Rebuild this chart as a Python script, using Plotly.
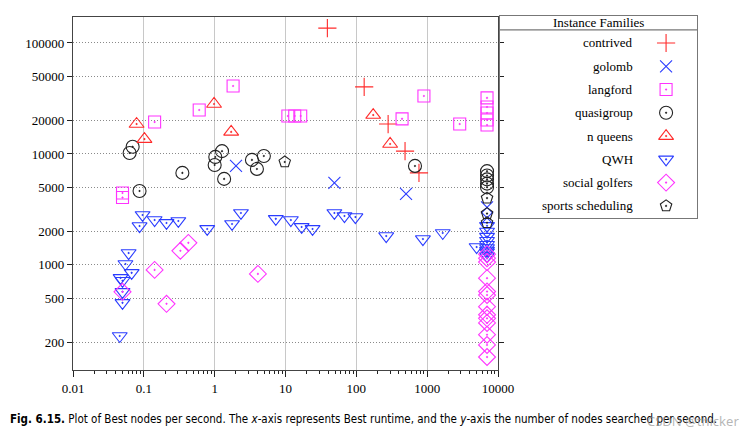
import plotly.graph_objects as go
import math

# ---------------- data ----------------
families = ["contrived", "golomb", "langford", "quasigroup", "n queens",
            "QWH", "social golfers", "sports scheduling"]

contrived_x = [39, 129, 281, 487, 766]
contrived_y = [136000, 40200, 18600, 10600, 6750]

golomb_x = [2.0, 49, 503, 7000, 7000]
golomb_y = [7800, 5480, 4360, 3300, 2650]

langford_x = [0.050, 0.050, 0.142, 0.605, 1.82, 10.8, 13.5, 16.4, 442, 900, 2880,
              7000, 7000, 7000, 7000, 7000]
langford_y = [4450, 4050, 19400, 24900, 41000, 22000, 22000, 22000, 20700, 33300, 18600,
              32000, 26500, 23400, 20200, 18200]

quasigroup_x = [0.063, 0.0695, 0.087, 0.35, 1.02, 1.0, 1.27, 1.36, 3.36, 3.95, 4.95, 673,
                7000, 7000, 7000, 7000, 7000]
quasigroup_y = [10200, 11600, 4640, 6750, 9400, 7960, 10600, 5960, 8840, 7330, 9590, 7800,
                7000, 6400, 5900, 5400, 5000]

nqueens_x = [0.079, 0.102, 0.98, 1.71, 173, 300]
nqueens_y = [18600, 13600, 28200, 15800, 22400, 12300]

qwh_x = [0.0457, 0.050, 0.050, 0.047, 0.050, 0.055, 0.061, 0.0673, 0.087, 0.096, 0.142,
         0.209, 0.307, 0.785, 1.76, 2.35, 7.3, 11.9, 16.9, 24.1, 49, 68, 97, 264, 871,
         1660, 4990, 7000, 7000, 7000, 7000, 7000, 7000, 7000, 7000, 7000]
qwh_y = [229, 455, 572, 764, 720, 1020, 1280, 848, 2240, 2820, 2540, 2390, 2490, 2110,
         2340, 2940, 2600, 2540, 2200, 2110, 2940, 2760, 2700, 1820, 1710, 1940, 1450,
         2250, 2000, 1800, 1650, 1520, 1420, 1350, 1300, 1200]

golfers_x = [0.050, 0.142, 0.209, 0.328, 0.425, 4.08,
             7000, 7000, 7000, 7000, 7000, 7000, 7000, 7000, 7000, 7000, 7000, 7000, 7000]
golfers_y = [572, 902, 446, 1340, 1580, 830,
             1250, 1150, 1060, 760, 575, 535, 420, 355, 330, 300, 235, 190, 148]

sports_x = [9.76, 7000, 7000, 7000]
sports_y = [8470, 4000, 2900, 2400]

x_ticks = [0.01, 0.1, 1, 10, 100, 1000, 10000]
x_ticktext = ["0.01", "0.1", "1", "10", "100", "1000", "10000"]
y_ticks = [200, 500, 1000, 2000, 5000, 10000, 20000, 50000, 100000]
y_ticktext = ["200", "500", "1000", "2000", "5000", "10000", "20000", "50000", "100000"]

# ---------------- styles ----------------
RED = "#ff2a2a"
BLUE = "#2a3cff"
MAG = "#ff33ff"
BLK = "#222222"
styles = {
    "contrived": ("cross-thin-open", RED, 13),
    "golomb": ("x-thin-open", BLUE, 12),
    "langford": ("square-open-dot", MAG, 12),
    "quasigroup": ("circle-open-dot", BLK, 13),
    "n queens": ("triangle-up-open-dot", RED, 13),
    "QWH": ("triangle-down-open-dot", BLUE, 13),
    "social golfers": ("diamond-open-dot", MAG, 13),
    "sports scheduling": ("pentagon-open-dot", BLK, 12),
}
series = {
    "contrived": (contrived_x, contrived_y),
    "golomb": (golomb_x, golomb_y),
    "langford": (langford_x, langford_y),
    "quasigroup": (quasigroup_x, quasigroup_y),
    "n queens": (nqueens_x, nqueens_y),
    "QWH": (qwh_x, qwh_y),
    "social golfers": (golfers_x, golfers_y),
    "sports scheduling": (sports_x, sports_y),
}

SERIF = '"Liberation Serif", "Times New Roman", "DejaVu Serif", serif'

fig = go.Figure()
for fam in families:
    sym, col, sz = styles[fam]
    xs, ys = series[fam]
    fig.add_trace(go.Scatter(
        x=xs, y=ys, mode="markers", name=fam, showlegend=False,
        marker=dict(symbol=sym, size=sz, color=col, line=dict(color=col, width=1.1)),
        xaxis="x", yaxis="y"))

# custom legend (gnuplot style: label right-aligned, symbol on the right)
LABEL_X = 0.685
SYM_X = 0.843
for i, fam in enumerate(families):
    sym, col, sz = styles[fam]
    fig.add_trace(go.Scatter(
        x=[SYM_X], y=[i], mode="markers", showlegend=False, hoverinfo="skip",
        marker=dict(symbol=sym, size=sz, color=col, line=dict(color=col, width=1.1)),
        xaxis="x2", yaxis="y2"))
    fig.add_annotation(x=LABEL_X, y=i, xref="x2", yref="y2", text=fam,
                       showarrow=False, xanchor="right", yanchor="middle",
                       font=dict(family=SERIF, size=13, color="black"))
fig.add_annotation(x=0.5, y=-0.86, xref="x2", yref="y2", text="Instance Families",
                   showarrow=False, xanchor="center", yanchor="middle",
                   font=dict(family=SERIF, size=13, color="black"))
fig.add_shape(type="line", xref="x2", yref="y2", x0=0, x1=1, y0=-0.56, y1=-0.56,
              line=dict(color="#777777", width=1.3))

fig.update_layout(
    width=742, height=430,
    margin=dict(l=65, r=53, t=8, b=68),
    paper_bgcolor="white", plot_bgcolor="white",
    font=dict(family=SERIF, size=13, color="black"),
    xaxis=dict(type="log", range=[-2, 4], domain=[0, 0.6811], anchor="y",
               tickmode="array", tickvals=x_ticks, ticktext=x_ticktext,
               ticks="outside", ticklen=6, tickcolor="#222", tickwidth=1.2,
               minor=dict(tickmode="linear", dtick="D1", ticks="outside",
                          ticklen=3, tickcolor="#222", tickwidth=1, showgrid=False),
               showline=True, linecolor="#444", linewidth=1.2, mirror=True,
               showgrid=True, gridcolor="#c8c8c8", gridwidth=1, zeroline=False,
               tickfont=dict(family=SERIF, size=13, color="black")),
    yaxis=dict(type="log", range=[math.log10(113), 5.234], domain=[0, 0.9972], anchor="x",
               tickmode="array", tickvals=y_ticks, ticktext=y_ticktext,
               ticks="outside", ticklen=5, tickcolor="#222", tickwidth=1.2,
               showline=True, linecolor="#444", linewidth=1.2, mirror="ticks",
               showgrid=True, gridcolor="#8a8a8a", gridwidth=1, griddash="1px,2px",
               zeroline=False,
               tickfont=dict(family=SERIF, size=13, color="black")),
    xaxis2=dict(range=[0, 1], domain=[0.6843, 1], anchor="y2",
                showline=True, linecolor="#777777", linewidth=1.3, mirror=True,
                showgrid=False, zeroline=False, showticklabels=False, ticks="",
                fixedrange=True),
    yaxis2=dict(range=[7.52, -1.16], domain=[0.4294, 1], anchor="x2",
                showline=True, linecolor="#777777", linewidth=1.3, mirror=True,
                showgrid=False, zeroline=False, showticklabels=False, ticks="",
                fixedrange=True),
)

fig.add_annotation(
    x=-0.1042, y=-0.1384, xref="paper", yref="paper", xanchor="left", yanchor="middle",
    showarrow=False,
    text=("<b>Fig. 6.15.</b> Plot of Best nodes per second. The <i>x</i>-axis represents "
          "Best runtime, and the <i>y</i>-axis the number of nodes searched per second."),
    font=dict(family='"DejaVu Sans Condensed", "Liberation Sans Narrow", sans-serif',
              size=11.5, color="black"))
fig.add_annotation(
    x=1.07, y=-0.145, xref="paper", yref="paper", xanchor="right", yanchor="middle",
    showarrow=False, text="CSDN @thicker",
    font=dict(family='"Noto Sans", sans-serif', size=13, color="rgba(150,150,150,0.7)"))

fig.write_html("out.html")
